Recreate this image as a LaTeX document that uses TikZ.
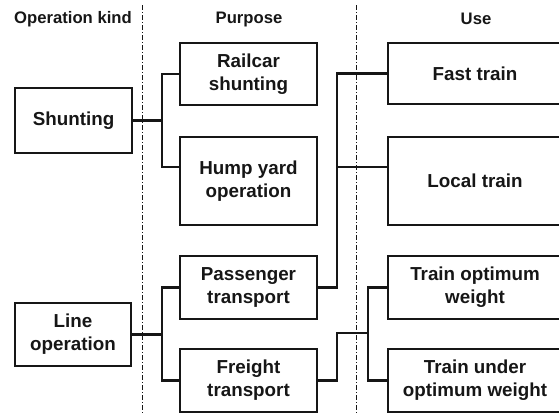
\documentclass[tikz,border=0pt]{standalone}
\usepackage{fontspec}
\setmainfont{Liberation Sans}
\usetikzlibrary{calc}
\definecolor{ink}{HTML}{161616}
\begin{document}
\begin{tikzpicture}[x=0.75pt,y=-0.75pt,
  box/.style={draw=ink,line width=1.7pt,text=ink,align=center,inner sep=0pt,
    font=\fontsize{14.1}{17.25}\selectfont\bfseries},
  head/.style={text=ink,inner sep=0pt,font=\fontsize{12.5}{15}\selectfont\bfseries},
  conn/.style={draw=ink,line width=1.6pt},
  divider/.style={draw=ink,line width=0.65pt,dash pattern=on 3.75pt off 1.5pt on 0.75pt off 1.5pt}]
\useasboundingbox (0,0) rectangle (559,412);
\clip (0,0) rectangle (559,412);
% dividers
\coordinate (d1t) at (142.7,5);
\coordinate (d1b) at (142.7,415);
\coordinate (d2t) at (356,5);
\coordinate (d2b) at (356,415);
\draw[divider] (d1t) -- (d1b);
\draw[divider] (d2t) -- (d2b);
% headers
\node[head] (h1) at (73,19) {Operation kind};
\node[head] (h2) at (249,19) {Purpose};
\node[head] (h3) at (476,19) {Use};
% column 1
\node[box,minimum width=117*0.75pt,minimum height=65*0.75pt] (shunt) at (73.5,120.5) {Shunting};
\node[box,minimum width=116*0.75pt,minimum height=63*0.75pt] (line) at (73,334.5) {Line\\operation};
% column 2
\node[box,minimum width=137*0.75pt,minimum height=62*0.75pt] (rail) at (248.5,74) {Railcar\\shunting};
\node[box,minimum width=137*0.75pt,minimum height=88*0.75pt] (hump) at (248.5,181) {Hump yard\\operation};
\node[box,minimum width=137*0.75pt,minimum height=63*0.75pt] (pass) at (248.5,287.5) {Passenger\\transport};
\node[box,minimum width=137*0.75pt,minimum height=63*0.75pt] (freight) at (248.5,380.5) {Freight\\transport};
% column 3
\node[box,minimum width=174*0.75pt,minimum height=61*0.75pt] (fast) at (475,73.5) {Fast train};
\node[box,minimum width=174*0.75pt,minimum height=88*0.75pt] (local) at (475,181) {Local train};
\node[box,minimum width=174*0.75pt,minimum height=63*0.75pt] (topt) at (475,287.5) {Train optimum\\weight};
\node[box,minimum width=174*0.75pt,minimum height=63*0.75pt] (tund) at (475,380.5) {Train under\\optimum weight};
% connection points
\coordinate (hw) at ($(hump.west)+(0,-14)$);
\coordinate (lw) at ($(local.west)+(0,-14)$);
\coordinate (b1) at (162,121);
\coordinate (b2) at (162,334);
\coordinate (b3) at (337,287);
\coordinate (b4) at (337,381);
\coordinate (b5) at (368,333);
% connectors
\draw[conn] (shunt.east) -- (b1 |- shunt.east);
\draw[conn] (rail.west) -- (b1 |- rail.west) -- (b1 |- hw) -- (hw);
\draw[conn] (line.east) -- (b2 |- line.east);
\draw[conn] (pass.west) -- (b2 |- pass.west) -- (b2 |- freight.west) -- (freight.west);
\draw[conn] (pass.east) -- (b3 |- pass.east) -- (b3 |- fast.west) -- (fast.west);
\draw[conn] (b3 |- lw) -- (lw);
\draw[conn] (freight.east) -- (b4 |- freight.east) -- (b4 |- b5) -- (b5);
\draw[conn] (topt.west) -- (b5 |- topt.west) -- (b5 |- tund.west) -- (tund.west);
\end{tikzpicture}
\end{document}
